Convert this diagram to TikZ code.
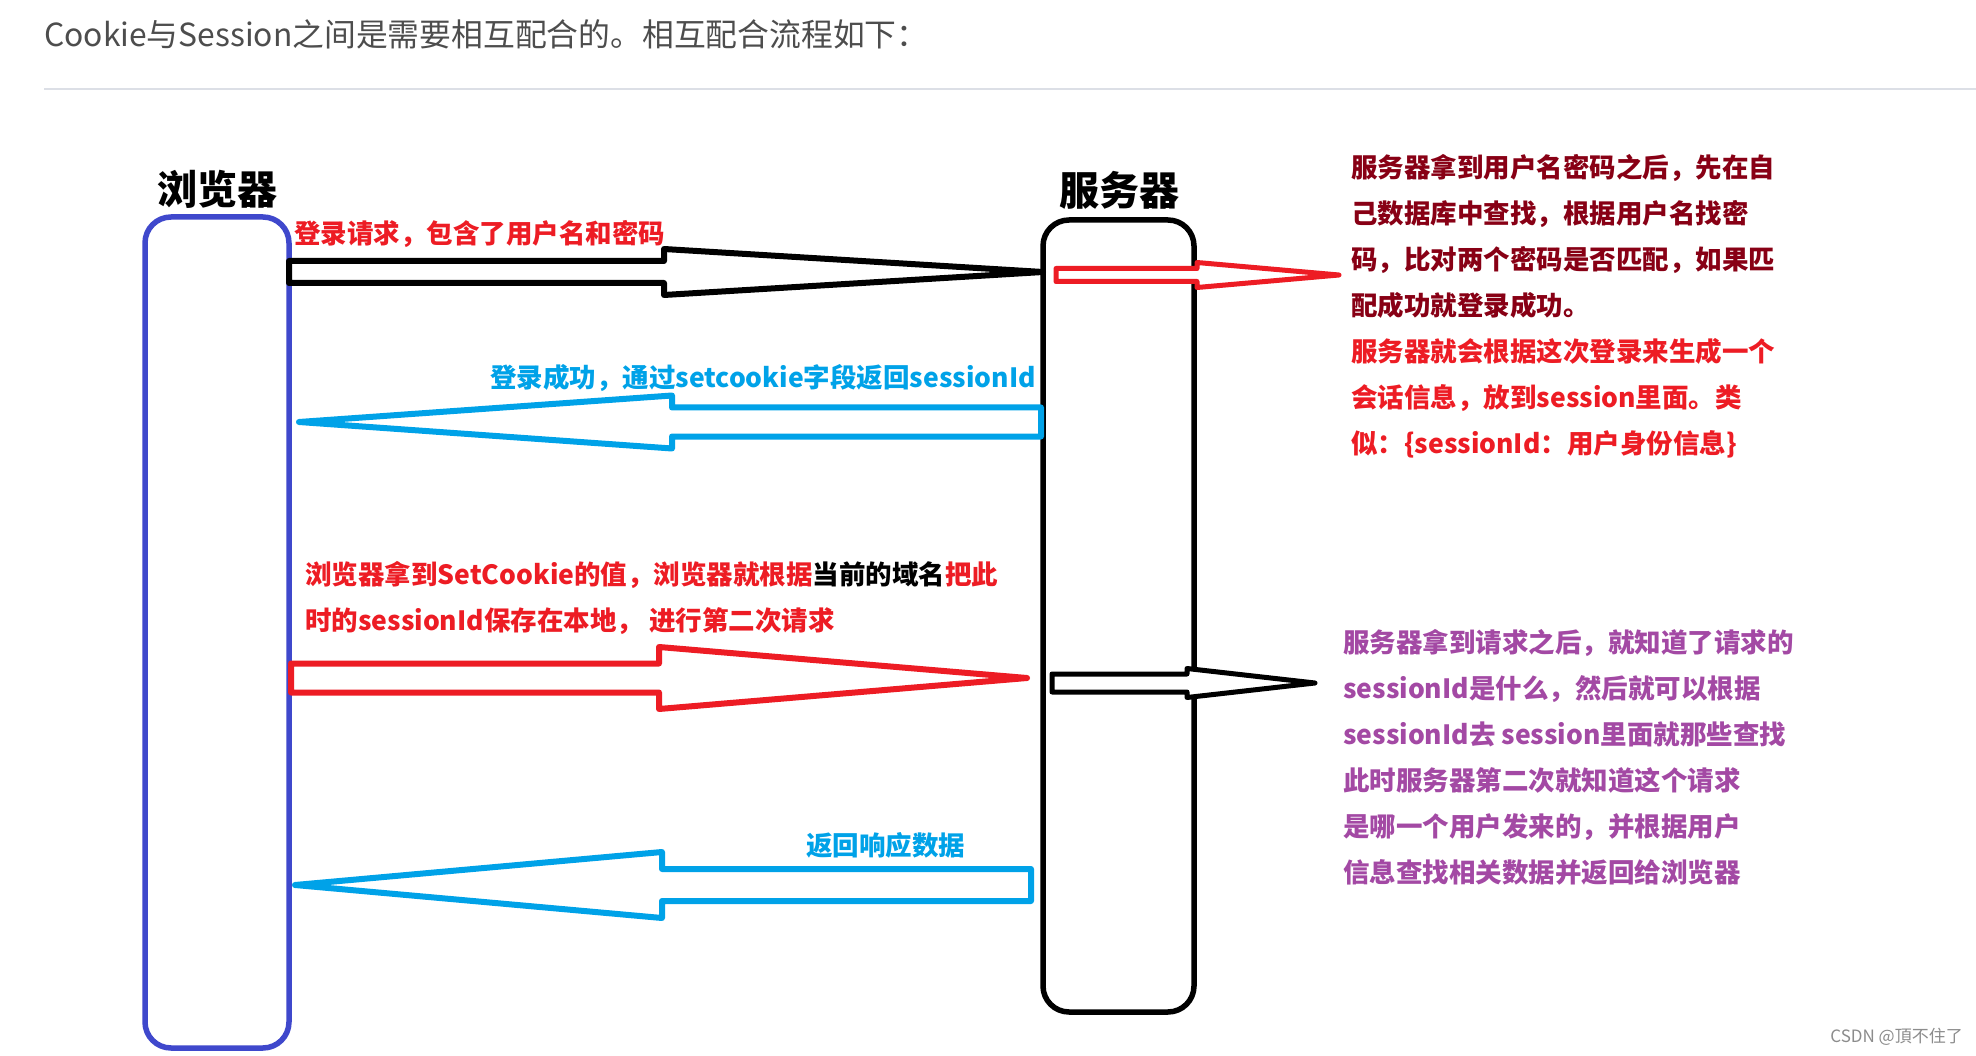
\documentclass[tikz,border=0pt]{standalone}
\usepackage{fontspec}
\newfontfamily\cjk{Noto Sans CJK SC}
\definecolor{boxblue}{HTML}{3F48CC}
\definecolor{pred}{HTML}{ED1C24}
\definecolor{dred}{HTML}{880015}
\definecolor{pblue}{HTML}{00A2E8}
\definecolor{ppurple}{HTML}{A349A4}
\definecolor{titlegray}{HTML}{4D4D4D}
\definecolor{rulegray}{HTML}{DCDFE6}
\newcommand\hollowarrow[7]{%
  \draw[#1] (#2,#5-#6) -- (#3,#5-#6) -- (#3,#5-#7) -- (#4,#5) -- (#3,#5+#7) -- (#3,#5+#6) -- (#2,#5+#6) -- cycle;}
\tikzset{
  lbl/.style={font=\cjk\bfseries\fontsize{26.5}{46}\selectfont, inner sep=0pt, align=left},
  boxlbl/.style={font=\cjk\bfseries\fontsize{40}{44}\selectfont, inner sep=0pt, text=black},
  arrowline/.style={line width=6pt, line join=round, fill=white},
  lane/.style={line width=5.5pt, rounded corners=26pt},
}
\begin{document}
\begin{tikzpicture}[x=1pt,y=-1pt]
\useasboundingbox (0,0) rectangle (1976,1056);
\fill[white] (0,0) rectangle (1976,1056);
% title
\node[anchor=west, inner sep=0pt, font=\cjk\fontsize{31.8}{36}\selectfont, text=titlegray] (title) at (44,34) {Cookie与Session之间是需要相互配合的。相互配合流程如下：};
\draw[rulegray, line width=1.5pt] (44,89) -- (1976,89);
% lanes
\draw[lane, boxblue] (145,217) rectangle (289,1048);
\node[boxlbl] (browserlbl) at (217,189) {浏览器};
\draw[lane, black] (1043,220) rectangle (1194,1012);
\node[boxlbl] (serverlbl) at (1119,190) {服务器};
% arrow 1: login request
\hollowarrow{arrowline, draw=black}{289}{664}{1043}{272}{11}{23}
\node[lbl, text=pred, anchor=west] (l1) at (294,234) {登录请求，包含了用户名和密码};
% small red arrow
\hollowarrow{line width=5pt, line join=round, draw=pred, fill=white}{1056}{1197}{1339}{275}{6.5}{12.5}
% block 1
\node[lbl, anchor=west, text=dred] (b1) at (1351,306.5) {服务器拿到用户名密码之后，先在自\\己数据库中查找，根据用户名找密\\码，比对两个密码是否匹配，如果匹\\配成功就登录成功。\\\textcolor{pred}{服务器就会根据这次登录来生成一个}\\\textcolor{pred}{会话信息，放到session里面。类}\\\textcolor{pred}{似：\{sessionId：用户身份信息\}}};
% arrow 2: login success
\hollowarrow{arrowline, draw=pblue}{1041}{672}{299}{422}{14.5}{26.5}
\node[lbl, text=pblue, anchor=east] (l2) at (1036,378) {登录成功，通过setcookie字段返回sessionId};
% browser text
\node[lbl, anchor=west, text=pred] (bt) at (305,598) {浏览器拿到SetCookie的值，浏览器就根据\textcolor{black}{当前的域名}把此\\时的sessionId保存在本地， 进行第二次请求};
% arrow 3: second request
\hollowarrow{arrowline, draw=pred}{291}{659}{1027}{678}{14.5}{31}
% small black arrow
\hollowarrow{line width=5pt, line join=round, draw=black, fill=white}{1052}{1187}{1315}{683}{9}{14.5}
% block 2
\node[lbl, anchor=west, text=ppurple] (b2) at (1343,757) {服务器拿到请求之后，就知道了请求的\\sessionId是什么，然后就可以根据\\sessionId去 session里面就那些查找\\此时服务器第二次就知道这个请求\\是哪一个用户发来的，并根据用户\\信息查找相关数据并返回给浏览器};
% arrow 4: response
\hollowarrow{arrowline, draw=pblue}{1031}{662}{295}{885}{16}{33}
\node[lbl, text=pblue, anchor=west] (l4) at (806,845) {返回响应数据};
% watermark
\node[anchor=east, inner sep=0pt, font=\cjk\fontsize{17}{20}\selectfont, text=black!45] (wm) at (1963,1037) {CSDN @頂不住了};
\end{tikzpicture}
\end{document}
